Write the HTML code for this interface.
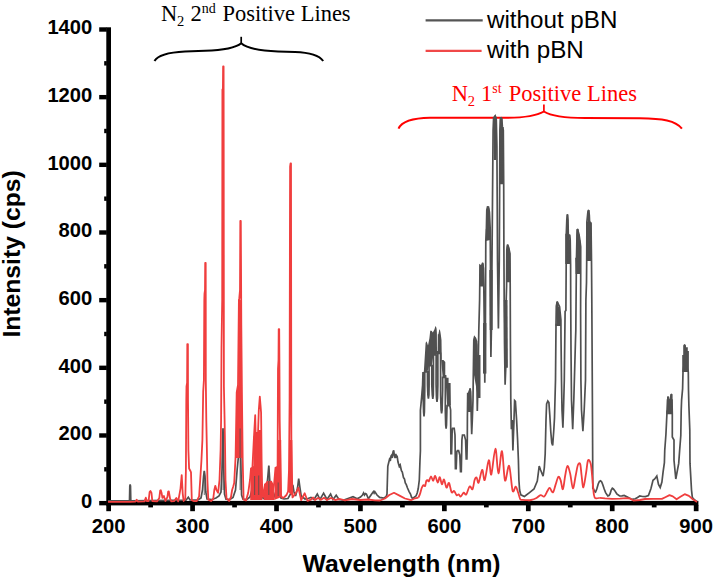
<!DOCTYPE html>
<html><head><meta charset="utf-8"><style>
html,body{margin:0;padding:0;background:#fff;overflow:hidden;}
svg{display:block;}
.tk{font-family:"Liberation Sans",sans-serif;font-weight:bold;font-size:20.2px;fill:#000;}
.ttl{font-family:"Liberation Sans",sans-serif;font-weight:bold;font-size:24.5px;fill:#000;}
.lg{font-family:"Liberation Sans",sans-serif;font-size:24.2px;fill:#000;}
.an{font-family:"Liberation Serif",serif;font-size:22.5px;}
.ans{font-family:"Liberation Serif",serif;font-size:15px;}
</style></head><body>
<svg width="714" height="581" viewBox="0 0 714 581">
<rect width="714" height="581" fill="#fff"/>
<rect x="106.3" y="27.3" width="4.7" height="478.1" fill="#000"/><rect x="106.3" y="500.9" width="592.1" height="4.5" fill="#000"/><rect x="99.2" y="27.30" width="7.6" height="4.4" fill="#000"/><rect x="104.2" y="61.13" width="2.6" height="4.4" fill="#000"/><rect x="99.2" y="94.96" width="7.6" height="4.4" fill="#000"/><rect x="104.2" y="128.79" width="2.6" height="4.4" fill="#000"/><rect x="99.2" y="162.63" width="7.6" height="4.4" fill="#000"/><rect x="104.2" y="196.46" width="2.6" height="4.4" fill="#000"/><rect x="99.2" y="230.29" width="7.6" height="4.4" fill="#000"/><rect x="104.2" y="264.12" width="2.6" height="4.4" fill="#000"/><rect x="99.2" y="297.96" width="7.6" height="4.4" fill="#000"/><rect x="104.2" y="331.79" width="2.6" height="4.4" fill="#000"/><rect x="99.2" y="365.62" width="7.6" height="4.4" fill="#000"/><rect x="104.2" y="399.45" width="2.6" height="4.4" fill="#000"/><rect x="99.2" y="433.28" width="7.6" height="4.4" fill="#000"/><rect x="104.2" y="467.11" width="2.6" height="4.4" fill="#000"/><rect x="99.2" y="500.95" width="7.6" height="4.4" fill="#000"/><rect x="106.30" y="504.9" width="4.7" height="6.3" fill="#000"/><rect x="148.27" y="504.9" width="4.7" height="2.5" fill="#000"/><rect x="190.23" y="504.9" width="4.7" height="6.3" fill="#000"/><rect x="232.20" y="504.9" width="4.7" height="2.5" fill="#000"/><rect x="274.16" y="504.9" width="4.7" height="6.3" fill="#000"/><rect x="316.12" y="504.9" width="4.7" height="2.5" fill="#000"/><rect x="358.09" y="504.9" width="4.7" height="6.3" fill="#000"/><rect x="400.06" y="504.9" width="4.7" height="2.5" fill="#000"/><rect x="442.02" y="504.9" width="4.7" height="6.3" fill="#000"/><rect x="483.99" y="504.9" width="4.7" height="2.5" fill="#000"/><rect x="525.95" y="504.9" width="4.7" height="6.3" fill="#000"/><rect x="567.92" y="504.9" width="4.7" height="2.5" fill="#000"/><rect x="609.88" y="504.9" width="4.7" height="6.3" fill="#000"/><rect x="651.85" y="504.9" width="4.7" height="2.5" fill="#000"/><rect x="693.81" y="504.9" width="4.7" height="6.3" fill="#000"/>
<path d="M154.5,61.1 C157,56.5 165,52.5 185,51.5 L205,50.8 C222,50.3 235,48.5 241.2,43.3 M241.2,43.3 C247,48.5 260,50.8 278,51.4 L295,52 C312,52.6 320,56.5 323.2,61" fill="none" stroke="#000" stroke-width="2"/>
<path d="M398.5,128.6 C401.5,122 410,118.2 430,117.8 L505,117.8 C522,117.8 536,116 543.9,111.5 M543.9,111.5 C551,116 566,118 585,118.1 L640,118.2 C662,118.4 676,120.5 681.9,128.7" fill="none" stroke="#f00" stroke-width="2"/>
<path d="M241.2,44 L241.2,36.8" stroke="#000" stroke-width="1.7"/>
<path d="M543.9,112 L543.9,104.5" stroke="#f00" stroke-width="1.7"/>
<g fill="#505050" stroke="none">
<polygon points="422.60,385.00 423.00,372.00 423.80,372.00 425.20,349.50 425.60,343.00 426.40,341.30 427.20,343.00 428.00,345.50 429.40,338.20 430.20,331.00 430.80,330.40 431.80,331.00 432.80,332.40 434.50,329.30 435.30,326.50 435.90,326.20 436.60,328.70 436.90,333.00 437.00,351.00 437.60,351.00 437.80,334.30 438.40,334.30 439.20,330.00 439.80,329.30 440.40,332.00 440.90,335.20 441.50,340.00 441.80,360.10 443.50,360.10 445.30,362.00 445.30,375.00 446.40,375.00 446.40,377.80 448.60,377.80 448.60,382.90 450.60,382.90 450.90,405.00 449.85,405.60 447.15,405.60 445.35,377.30 442.65,377.30 440.55,353.40 437.85,353.40 436.15,355.00 433.45,355.00 431.75,365.70 429.05,365.70 427.45,371.90 424.75,371.90"/><polygon points="493.30,118.00 494.30,115.50 495.80,115.50 496.90,118.00 496.90,145.00 496.20,160.00 493.80,160.00"/><polygon points="499.60,120.00 500.20,117.00 501.50,117.00 502.40,118.00 502.40,126.90 503.70,126.90 503.70,184.30 499.60,184.30"/><polygon points="486.80,209.00 487.30,206.80 488.80,206.80 489.40,209.00 490.20,229.10 490.20,240.00 485.80,240.90 485.80,229.10 486.80,229.10"/><polygon points="479.60,265.40 480.40,265.00 481.60,264.50 482.20,262.50 483.20,262.80 483.80,265.00 483.80,286.50 479.60,286.50"/><polygon points="506.60,247.00 507.10,244.50 508.30,244.70 510.00,250.00 510.40,282.30 506.60,282.30"/><polygon points="473.70,340.00 474.10,337.00 475.20,337.00 476.80,341.40 477.50,345.00 477.50,360.00 473.70,360.00"/><polygon points="467.70,393.50 469.60,388.30 470.80,388.30 471.30,392.00 471.30,412.00 467.70,412.00"/><polygon points="489.30,270.00 492.70,270.00 492.70,330.00 489.70,330.00"/><polygon points="483.00,323.00 486.40,323.00 486.40,373.60 483.00,373.60"/><polygon points="474.00,355.00 480.50,355.00 480.50,398.00 478.00,398.00 474.00,375.00"/><polygon points="503.70,300.00 507.50,300.00 507.90,367.70 504.50,367.70"/><polygon points="565.30,233.70 566.60,233.70 566.60,214.80 567.30,213.90 568.30,214.80 568.30,234.50 569.80,235.20 569.80,239.90 571.00,239.90 571.00,264.00 565.30,264.00"/><polygon points="575.20,257.80 576.40,257.80 576.40,229.50 577.50,228.60 578.70,229.50 578.70,234.50 579.50,234.50 579.50,240.30 580.40,240.30 580.40,246.90 581.00,246.90 581.00,274.00 575.60,274.00"/><polygon points="586.10,221.70 587.60,221.70 587.60,210.50 588.60,209.60 589.60,210.50 589.60,221.70 591.40,223.20 591.90,260.90 586.50,260.90"/><polygon points="556.60,306.60 556.20,302.00 557.20,301.20 558.20,302.00 558.20,306.60 560.10,306.60 560.10,319.80 560.90,319.80 560.90,326.00 555.50,326.00 555.50,323.70 556.60,323.70"/><polygon points="666.30,410.40 667.00,410.40 667.00,396.80 668.00,396.00 669.10,396.80 669.60,400.00 670.20,394.30 671.40,393.50 672.60,394.30 672.60,414.30 666.30,414.30"/><polygon points="682.20,354.90 683.20,354.90 683.20,345.50 684.20,344.00 685.40,344.50 686.00,345.50 686.00,347.20 687.80,347.20 687.80,351.00 688.90,351.00 688.90,372.00 682.20,372.00"/>
</g>
<polyline points="108.00,500.80 129.50,500.80 129.80,486.00 130.00,485.10 130.30,485.10 130.50,486.00 130.80,500.80 150.00,500.60 170.00,500.40 186.00,500.20 188.30,497.20 190.00,500.00 198.00,500.00 201.00,498.00 202.50,490.00 203.60,476.00 204.30,470.80 205.00,476.00 205.80,492.00 207.00,499.00 212.00,499.50 216.00,498.00 219.00,496.00 221.00,492.00 222.00,470.00 222.60,440.00 223.00,428.30 223.40,440.00 223.80,470.00 224.50,494.00 226.00,499.20 230.00,499.50 233.00,497.50 235.50,490.00 236.50,478.00 237.20,469.00 238.60,455.00 239.50,440.00 240.00,428.20 240.50,440.00 241.00,470.00 241.60,495.00 243.00,499.20 247.00,499.50 250.00,497.00 252.00,490.00 253.50,480.00 254.50,476.00 255.50,488.00 256.50,485.00 257.80,478.00 258.70,475.30 259.60,485.00 261.00,497.00 264.00,498.50 266.50,490.00 268.00,475.00 268.80,465.60 269.60,478.00 271.00,494.00 274.00,497.00 276.50,490.00 278.00,482.50 279.30,490.00 281.00,498.00 284.00,499.00 288.00,498.50 290.50,494.00 291.50,488.00 292.80,484.80 294.00,492.00 295.60,496.00 297.50,488.00 298.70,478.50 300.00,488.00 301.20,496.00 305.00,499.00 308.00,498.50 311.00,497.40 314.00,499.50 317.30,494.00 320.00,499.50 323.60,493.20 327.00,499.50 330.60,494.00 333.00,499.50 336.20,495.30 339.00,499.50 343.20,500.20 348.00,498.50 353.00,496.70 357.20,498.80 360.50,497.00 362.50,495.00 363.60,493.00 364.50,495.00 365.50,493.50 366.40,494.00 368.40,498.80 371.00,495.00 373.40,491.60 374.10,493.00 374.80,491.60 377.00,495.00 379.60,497.40 383.80,498.10 386.20,496.50 387.00,494.00 387.40,480.00 387.80,466.40 388.60,463.00 389.50,459.40 390.30,461.00 391.00,456.00 391.60,455.20 392.30,458.00 393.00,452.00 393.70,450.30 394.30,455.00 395.10,458.00 395.80,454.00 396.50,457.00 397.20,456.60 398.00,462.00 399.30,466.40 400.20,465.00 401.40,470.60 402.30,472.00 403.50,477.60 404.50,479.00 405.30,483.00 406.30,484.60 407.50,488.00 409.10,491.60 410.50,494.00 411.50,497.00 412.60,498.60 414.00,497.50 416.10,495.80 417.20,493.00 418.20,488.80 419.30,480.00 420.00,460.00 420.40,451.00 420.40,451.00 420.40,410.30 421.00,404.00 421.60,397.70 422.60,385.00 423.00,372.00 423.10,395.00 423.60,412.00 424.00,416.50 424.40,412.00 424.75,390.00 424.75,371.90 427.45,371.90 427.50,385.00 427.90,395.00 428.40,398.60 428.90,395.00 429.10,385.00 429.05,365.70 431.75,365.70 431.80,385.00 432.30,395.00 432.80,398.90 433.30,395.00 433.45,380.00 433.45,355.00 436.15,355.00 436.10,385.00 436.50,398.00 437.00,401.90 437.50,398.00 437.85,385.00 437.85,353.40 440.55,353.40 440.60,395.00 441.10,410.00 441.60,413.50 442.10,410.00 442.65,390.00 442.65,377.30 445.35,377.30 445.30,410.00 445.70,425.00 446.10,428.60 446.50,425.00 446.90,410.00 447.15,405.60 449.85,405.60 450.60,410.00 450.90,453.60 451.60,453.60 452.20,430.00 452.60,428.30 454.20,428.30 455.00,435.00 455.40,468.60 456.20,468.60 456.80,452.00 457.40,450.50 458.60,450.50 459.80,455.00 460.50,471.70 461.30,471.70 461.90,440.00 462.50,435.00 464.30,435.00 465.60,440.00 466.20,458.80 466.90,458.80 467.30,440.00 467.40,416.50 467.70,393.50 469.00,393.50 470.20,388.50 470.90,400.00 471.30,420.00 471.70,434.30 472.30,420.00 473.00,400.00 473.30,374.40 473.80,340.00 474.50,337.20 475.50,338.50 476.50,341.40 476.90,380.00 477.30,411.00 477.80,390.00 478.80,330.50 479.60,300.00 480.00,265.40 480.80,266.00 481.60,268.00 482.60,262.90 483.40,268.00 483.80,286.50 484.30,330.00 484.80,382.80 485.40,330.00 485.80,241.00 486.40,229.10 486.80,210.00 487.50,207.00 488.50,207.10 489.40,212.00 490.20,229.10 490.50,269.70 490.60,330.00 490.90,356.90 491.40,330.00 492.00,260.00 492.50,200.00 493.10,130.00 493.60,118.00 495.20,115.90 496.30,120.00 496.90,145.40 497.20,200.00 497.50,260.00 498.40,328.40 499.30,260.00 499.60,200.00 499.90,130.00 500.70,117.20 501.80,119.00 502.40,126.90 503.30,130.00 503.70,184.30 503.90,250.00 504.20,300.00 504.50,342.30 505.10,384.70 505.80,367.00 506.20,300.00 506.60,285.70 506.80,250.00 507.50,244.70 508.50,247.00 510.00,253.60 510.20,285.70 510.40,340.00 510.80,400.00 511.40,429.30 512.20,420.00 512.90,450.40 514.00,420.00 514.60,400.60 515.40,401.40 516.60,420.00 517.60,440.00 518.40,460.00 518.90,480.00 519.60,490.00 520.80,494.80 524.40,496.50 529.50,492.60 534.00,489.00 537.30,481.00 539.20,466.00 540.60,470.00 543.10,476.20 544.30,468.00 545.20,453.80 546.00,420.00 546.60,404.00 547.80,401.00 548.90,402.60 549.80,415.00 550.80,432.00 551.80,443.00 552.70,445.40 553.80,430.00 554.50,418.00 555.50,380.00 556.00,326.00 556.30,306.00 557.20,301.60 558.20,304.00 559.50,306.60 560.10,312.00 560.90,319.80 561.00,336.90 561.50,380.00 562.00,410.00 562.90,427.80 563.50,410.00 564.30,380.00 565.10,311.30 565.90,310.50 566.20,264.00 566.30,233.70 566.80,220.00 567.40,214.30 568.00,220.00 568.30,234.50 569.80,235.20 570.20,239.90 570.60,264.00 570.70,299.70 571.00,350.00 571.50,400.00 572.70,429.20 573.80,400.00 575.50,340.00 575.80,330.70 576.30,274.00 576.50,257.80 577.00,235.00 577.50,229.00 578.30,232.00 579.00,234.50 579.90,240.30 580.70,246.90 580.70,274.00 580.60,312.80 580.90,380.00 581.50,410.00 582.90,431.30 584.20,410.00 585.50,380.00 585.90,300.00 586.50,282.60 586.70,260.90 586.90,221.70 587.90,212.00 588.60,210.00 589.30,215.00 589.60,221.70 591.00,223.20 591.50,260.90 591.80,298.90 592.10,350.00 592.50,420.00 592.80,488.40 593.60,489.00 594.50,491.50 595.50,492.00 596.80,489.00 598.20,484.00 599.40,481.50 600.60,480.90 601.70,482.00 602.80,484.80 604.20,489.00 605.60,492.60 607.80,496.00 609.00,495.50 610.10,493.80 611.20,490.00 612.30,488.20 613.40,489.00 614.60,490.40 616.80,493.80 619.60,496.00 622.00,495.80 624.10,495.40 627.40,497.10 631.90,499.40 635.30,498.80 637.50,497.50 639.80,496.00 642.50,496.50 645.40,496.60 648.40,495.50 650.90,488.80 653.00,480.30 654.70,479.00 656.80,476.10 658.50,484.50 660.20,487.50 661.90,482.00 663.10,471.90 664.40,462.60 664.75,450.20 665.90,434.70 666.90,414.30 667.50,400.00 669.60,400.00 672.00,400.00 672.30,414.30 672.30,437.00 674.00,440.00 674.00,460.30 675.80,479.00 678.70,463.40 679.60,451.00 680.80,435.50 681.20,410.70 681.60,400.00 682.60,388.90 683.00,372.00 684.60,360.00 688.30,372.00 688.50,390.00 688.90,406.00 689.80,430.00 690.00,463.40 691.50,490.00 692.30,497.20 693.50,498.90 695.60,500.60 697.00,501.50" fill="none" stroke="#505050" stroke-width="1.7" stroke-linejoin="miter" stroke-miterlimit="3"/>
<polygon points="236.4,392 238.3,385 238.9,300 240.9,300 241.4,330 242.0,392 242.6,458 235.8,458" fill="#f03e3e"/>
<polygon points="250.2,500 250.7,468 253.4,466 253.5,436.3 255,436 256,432.1 258.2,432.1 259,430 261.3,430 261.5,470 262.5,500" fill="#f03e3e"/>
<polygon points="263.6,500 264.5,484 267,481 271.3,481 273.7,484 274.2,500" fill="#f03e3e"/>
<polygon points="274.2,500 275,470 276,466.5 277.5,466 277.8,440 281.2,440 281.3,470 281.6,497" fill="#f03e3e"/>
<polygon points="288.1,491.4 289,460 289.6,440 292.3,440 292.8,470 293.3,497" fill="#f03e3e"/>
<polyline points="108.00,501.90 130.00,501.80 135.50,501.60 136.70,499.80 138.00,501.60 144.50,501.40 145.80,497.70 147.00,501.20 148.60,501.00 149.60,492.00 150.40,491.00 151.50,493.00 152.30,501.00 157.00,501.40 159.30,497.90 160.20,490.50 160.80,490.20 161.60,493.00 162.40,497.90 163.90,496.00 165.40,501.00 167.40,497.20 168.20,491.50 168.80,491.30 170.10,498.70 171.30,501.40 174.00,501.20 176.30,497.90 178.20,501.40 180.50,488.60 181.70,475.10 182.70,493.30 183.60,501.00 185.30,498.70 185.90,470.00 186.30,400.00 186.50,386.50 187.10,383.00 187.30,344.10 187.90,344.10 188.00,400.00 188.40,450.00 189.10,468.50 190.30,470.70 191.00,472.40 191.80,500.20 194.00,501.20 196.80,501.00 199.10,496.40 200.30,478.60 201.40,461.00 202.40,440.00 203.20,391.60 203.90,380.00 204.30,300.00 204.50,293.70 205.00,290.00 205.20,262.80 205.70,262.80 205.75,300.00 205.80,380.00 206.30,420.00 206.90,450.00 207.40,480.00 208.30,499.60 211.00,501.00 213.20,499.00 214.30,490.00 215.30,485.80 216.50,490.00 218.10,492.80 219.50,480.00 220.60,450.00 221.10,420.00 221.50,347.70 222.20,300.00 222.40,89.50 222.90,89.50 223.10,66.40 223.60,66.40 223.70,150.00 223.90,386.50 224.60,420.00 225.10,450.00 225.50,480.00 226.50,498.40 229.00,501.00 231.00,497.00 232.10,490.00 233.30,486.20 234.20,483.00 235.60,456.40 236.70,392.40 238.00,385.00 238.90,300.00 239.30,298.20 240.00,290.00 240.30,220.90 240.80,220.90 241.00,260.00 241.30,324.40 242.00,400.00 242.70,460.00 243.60,499.60 246.00,500.50 248.20,492.80 250.00,480.00 251.00,468.30 252.30,470.00 253.80,440.00 255.20,415.20 256.00,450.00 256.80,462.00 257.80,440.00 258.80,410.00 259.80,396.70 260.50,405.00 261.10,412.70 261.60,460.00 262.20,490.00 263.00,497.00 264.00,490.00 265.00,484.40 266.20,490.00 267.80,481.60 269.00,488.00 270.20,485.00 271.30,481.60 272.50,492.00 274.00,485.00 275.50,467.60 276.50,475.00 277.60,466.90 278.00,368.80 278.50,360.00 278.70,329.10 279.20,329.10 279.40,360.00 279.70,420.00 280.20,450.00 281.10,495.60 282.50,498.00 284.50,497.00 286.50,495.00 288.10,491.40 289.00,470.00 289.60,400.00 290.00,200.00 290.10,166.50 290.50,163.50 291.00,163.50 291.10,250.00 291.30,420.00 291.50,476.40 292.50,497.40 294.50,495.00 296.50,492.00 298.40,487.60 301.20,500.20 304.70,493.20 307.50,500.90 311.00,499.60 313.00,497.50 315.00,500.00 318.00,498.00 321.00,499.80 324.00,497.80 327.00,500.00 331.00,498.00 335.00,500.00 340.00,499.00 345.00,500.30 352.00,499.00 360.00,500.00 368.00,499.50 375.00,500.30 380.00,500.50 385.00,498.50 389.30,495.00 394.00,492.80 400.00,495.90 405.00,498.50 411.00,500.20 415.00,498.30 418.40,497.60" fill="none" stroke="#f03e3e" stroke-width="1.8" stroke-linejoin="round"/>
<path d="M418.40,497.60 C418.67,496.98 419.45,495.50 420.00,493.90 C420.55,492.30 421.13,489.47 421.70,488.00 C422.27,486.53 422.83,485.43 423.40,485.10 C423.97,484.77 424.62,486.70 425.10,486.00 C425.58,485.30 425.88,481.88 426.30,480.90 C426.72,479.92 427.17,480.03 427.60,480.10 C428.03,480.17 428.33,481.93 428.90,481.30 C429.47,480.67 430.30,476.37 431.00,476.30 C431.70,476.23 432.40,480.97 433.10,480.90 C433.80,480.83 434.43,475.62 435.20,475.90 C435.97,476.18 436.93,482.40 437.70,482.60 C438.47,482.80 439.10,476.82 439.80,477.10 C440.50,477.38 441.20,483.88 441.90,484.30 C442.60,484.72 443.23,479.05 444.00,479.60 C444.77,480.15 445.67,487.03 446.50,487.60 C447.33,488.17 448.15,482.22 449.00,483.00 C449.85,483.78 450.75,490.97 451.60,492.30 C452.45,493.63 453.27,490.52 454.10,491.00 C454.93,491.48 455.83,494.63 456.60,495.20 C457.37,495.77 458.00,494.18 458.70,494.40 C459.40,494.62 459.97,496.78 460.80,496.50 C461.63,496.22 462.78,493.05 463.70,492.70 C464.62,492.35 465.32,495.45 466.30,494.40 C467.28,493.35 468.57,487.27 469.60,486.40 C470.63,485.53 471.67,490.27 472.50,489.20 C473.33,488.13 473.92,481.95 474.60,480.00 C475.28,478.05 475.93,477.07 476.60,477.50 C477.27,477.93 477.67,483.87 478.60,482.60 C479.53,481.33 481.18,470.33 482.20,469.90 C483.22,469.47 483.60,481.62 484.70,480.00 C485.80,478.38 487.70,461.12 488.80,460.20 C489.90,459.28 490.20,476.43 491.30,474.50 C492.40,472.57 494.22,448.78 495.40,448.60 C496.58,448.42 497.30,472.98 498.40,473.40 C499.50,473.82 500.90,449.92 502.00,451.10 C503.10,452.28 503.82,478.05 505.00,480.50 C506.18,482.95 507.83,464.10 509.10,465.80 C510.37,467.50 511.50,487.23 512.60,490.70 C513.70,494.17 514.77,486.27 515.70,486.60 C516.63,486.93 517.43,490.58 518.20,492.70 C518.97,494.82 519.53,498.12 520.30,499.30 C521.07,500.48 521.68,499.65 522.80,499.80 C523.92,499.95 525.63,500.17 527.00,500.20 C528.37,500.23 529.50,500.32 531.00,500.00 C532.50,499.68 534.40,499.12 536.00,498.30 C537.60,497.48 539.23,495.40 540.60,495.10 C541.97,494.80 543.07,497.18 544.20,496.50 C545.33,495.82 546.48,492.45 547.40,491.00 C548.32,489.55 548.78,487.57 549.70,487.80 C550.62,488.03 551.92,492.93 552.90,492.40 C553.88,491.87 554.70,487.18 555.60,484.60 C556.50,482.02 557.47,477.65 558.30,476.90 C559.13,476.15 559.83,478.05 560.60,480.10 C561.37,482.15 562.13,489.97 562.90,489.20 C563.67,488.43 564.45,479.37 565.20,475.50 C565.95,471.63 566.57,466.30 567.40,466.00 C568.23,465.70 569.28,469.98 570.20,473.70 C571.12,477.42 571.98,488.00 572.90,488.30 C573.82,488.60 574.87,479.38 575.70,475.50 C576.53,471.62 577.15,466.90 577.90,465.00 C578.65,463.10 579.58,462.35 580.20,464.10 C580.82,465.85 581.07,471.62 581.60,475.50 C582.13,479.38 582.65,487.85 583.40,487.40 C584.15,486.95 585.33,477.28 586.10,472.80 C586.87,468.32 587.23,462.02 588.00,460.50 C588.77,458.98 590.02,461.20 590.70,463.70 C591.38,466.20 591.57,470.33 592.10,475.50 C592.63,480.67 593.30,490.90 593.90,494.70 C594.50,498.50 594.72,497.78 595.70,498.30 C596.68,498.82 599.12,497.88 599.80,497.80" fill="none" stroke="#f03e3e" stroke-width="1.8"/>
<polyline points="599.80,497.80 605.00,498.40 612.00,498.80 620.00,498.60 626.00,498.20 630.00,498.50 633.40,500.60 640.00,500.00 645.00,499.00 653.40,498.90 661.90,498.90 665.30,497.20 669.50,495.10 672.80,496.40 676.60,499.30 680.40,496.80 684.70,494.20 688.90,495.90 692.30,498.90 695.60,501.00 697.00,502.00" fill="none" stroke="#f03e3e" stroke-width="1.8" stroke-linejoin="round"/>
<g stroke="#505050" stroke-width="1.1" opacity="0.75" fill="none">
<path d="M223.1,428.6 L223.1,490 M240.1,428.6 L240.1,490 M254.6,476 L254.6,495 M258.7,475.5 L258.7,495 M268.8,466 L268.8,495 M278.2,482.5 L278.2,496 M204.3,471 L204.3,495"/>
</g>
<text x="92.3" y="34.2" text-anchor="end" class="tk">1400</text>
<text x="92.3" y="101.9" text-anchor="end" class="tk">1200</text>
<text x="92.3" y="169.5" text-anchor="end" class="tk">1000</text>
<text x="92.3" y="237.2" text-anchor="end" class="tk">800</text>
<text x="92.3" y="304.9" text-anchor="end" class="tk">600</text>
<text x="92.3" y="372.5" text-anchor="end" class="tk">400</text>
<text x="92.3" y="440.2" text-anchor="end" class="tk">200</text>
<text x="92.3" y="507.8" text-anchor="end" class="tk">0</text>

<text x="108.7" y="533.4" text-anchor="middle" class="tk">200</text>
<text x="192.6" y="533.4" text-anchor="middle" class="tk">300</text>
<text x="276.5" y="533.4" text-anchor="middle" class="tk">400</text>
<text x="360.4" y="533.4" text-anchor="middle" class="tk">500</text>
<text x="444.4" y="533.4" text-anchor="middle" class="tk">600</text>
<text x="528.3" y="533.4" text-anchor="middle" class="tk">700</text>
<text x="612.2" y="533.4" text-anchor="middle" class="tk">800</text>
<text x="696.2" y="533.4" text-anchor="middle" class="tk">900</text>

<text class="ttl" transform="translate(20.2,337.6) rotate(-90)" x="0" y="0" style="font-size:24.7px">Intensity (cps)</text>
<text class="ttl" x="302.6" y="572.4" style="font-size:24.7px">Wavelength (nm)</text>
<line x1="425.6" y1="20.3" x2="482.7" y2="20.3" stroke="#555" stroke-width="2.2"/>
<line x1="425.6" y1="50.9" x2="481.6" y2="50.9" stroke="#f04848" stroke-width="2.2"/>
<text class="lg" x="487" y="28">without pBN</text>
<text class="lg" x="487" y="58.4">with pBN</text>
<g fill="#000">
<text class="an" x="161" y="20.7">N</text><text class="ans" x="177.1" y="25.5" style="font-size:14.5px">2</text>
<text class="an" x="190.5" y="20.7">2</text><text class="ans" x="201.7" y="12.6" style="font-size:14px">nd</text>
<text class="an" x="222.5" y="20.7">Positive Lines</text>
</g>
<g fill="#f00">
<text class="an" x="451.7" y="100.9">N</text><text class="ans" x="467.8" y="105.7" style="font-size:14.5px">2</text>
<text class="an" x="481" y="100.9">1</text><text class="ans" x="492.3" y="92.8" style="font-size:14px">st</text>
<text class="an" x="508.8" y="100.9">Positive Lines</text>
</g>
</svg>
</body></html>
